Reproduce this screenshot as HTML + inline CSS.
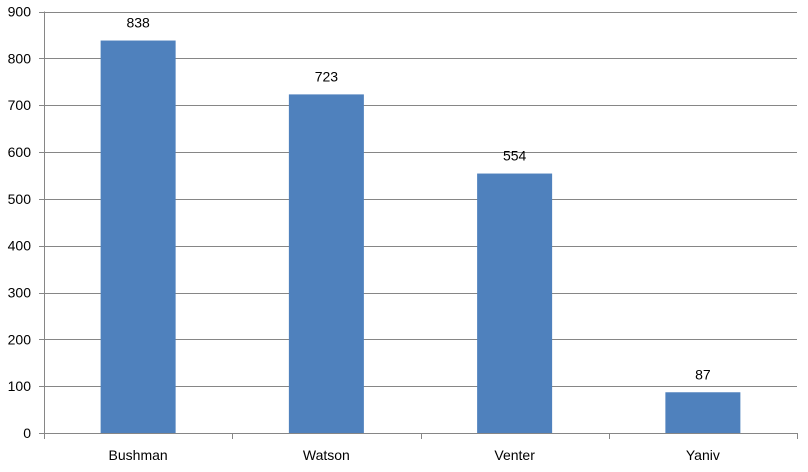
<!DOCTYPE html>
<html><head><meta charset="utf-8"><style>
html,body{margin:0;padding:0;background:#fff;}
svg text{font-family:"Liberation Sans",sans-serif;font-size:14px;fill:#000;}
</style></head><body>
<svg id="chart" width="808" height="467">
<g id="grid"></g><g id="bars"></g><g id="labels"></g>
</svg>
<script>
const categories = ["Bushman","Watson","Venter","Yaniv"];
const values = [838,723,554,87];
const yTicks = [0,100,200,300,400,500,600,700,800,900];
const X0=44, X1=797, Y0=433, Y1=11.5, YMAX=900;
const NS="http://www.w3.org/2000/svg";
const svg=document.getElementById('chart');
function y(v){return Y0-(v/YMAX)*(Y0-Y1);}
const bw=(X1-X0)/categories.length;
function xc(i){return X0+bw*(i+0.5);}
function mk(tag,attrs,parent,text){const e=document.createElementNS(NS,tag);for(const k in attrs)e.setAttribute(k,attrs[k]);if(text!==undefined)e.textContent=text;(parent||svg).appendChild(e);return e;}
const grid=document.getElementById('grid');
yTicks.forEach(t=>{
  const l=mk('line',{x1:X0-5,x2:X1,y1:Math.round(y(t))+0.5,y2:Math.round(y(t))+0.5,stroke:'#868686','stroke-width':1},grid);
  
  
  const tx=mk('text',{x:31,y:y(t)+5,'text-anchor':'end'},grid,String(t));
  
  
});
const ax=mk('line',{x1:X0+0.5,x2:X0+0.5,y1:Y1,y2:Y0,stroke:'#868686'},grid);


for(let i=0;i<=categories.length;i++){
  const xx=Math.round(X0+bw*i)+0.5;
  const tk=mk('line',{x1:xx,x2:xx,y1:Y0,y2:Y0+6,stroke:'#868686'},grid);
  
  
}
const bars=document.getElementById('bars'), labels=document.getElementById('labels');
categories.forEach((c,i)=>{
  const w=75, top=y(values[i]);
  const r=mk('rect',{x:xc(i)-w/2,y:top,width:w,height:Y0-top,fill:'#4F81BD'},bars);
  
  
  const v=mk('text',{x:xc(i),y:top-13,'text-anchor':'middle'},labels,String(values[i]));
  
  
  const t=mk('text',{x:xc(i),y:460,'text-anchor':'middle'},labels,c);
  
  
});
</script>
</body></html>
